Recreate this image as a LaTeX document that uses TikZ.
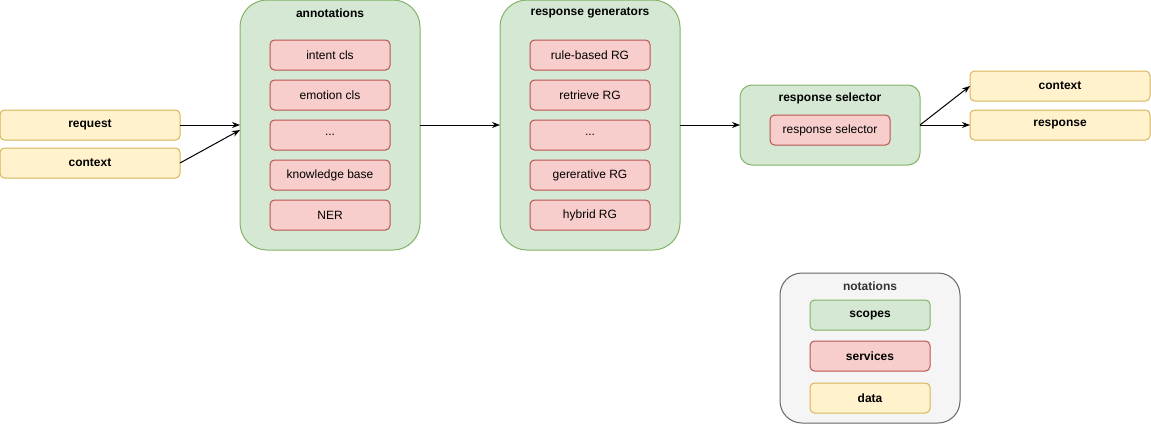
\documentclass[tikz,border=0pt]{standalone}
\usepackage{fontspec}
\setmainfont{Liberation Sans}
\usepackage{tikz}
\usetikzlibrary{arrows.meta,positioning}

\definecolor{scopefill}{HTML}{D5E8D4}
\definecolor{scopeline}{HTML}{82B366}
\definecolor{servfill}{HTML}{F8CECC}
\definecolor{servline}{HTML}{B85450}
\definecolor{datafill}{HTML}{FFF2CC}
\definecolor{dataline}{HTML}{D6B656}
\definecolor{notefill}{HTML}{F5F5F5}
\definecolor{noteline}{HTML}{666666}
\definecolor{notetext}{HTML}{333333}

\newcommand{\diafont}{\fontsize{12}{14}\selectfont}

\tikzset{
    scope/.style={draw=scopeline, fill=scopefill, line width=1pt, rounded corners=27pt, inner sep=0pt, outer sep=0pt},
    service/.style={draw=servline, fill=servfill, line width=1pt, rounded corners=4.5pt, minimum width=120pt, minimum height=30pt, inner sep=0pt, outer sep=0pt},
    data/.style={draw=dataline, fill=datafill, line width=1pt, rounded corners=4.5pt, minimum width=180pt, minimum height=30pt, inner sep=0pt, outer sep=0pt, font=\diafont\bfseries},
    title/.style={font=\diafont\bfseries, inner sep=0pt}
}

\begin{document}
\begin{tikzpicture}[x=1pt, y=-1pt, font=\diafont, node distance=10pt, >={Stealth[length=8pt,width=6pt]}]

    \useasboundingbox (0,0) rectangle (1151,424);

    % Input data
    \node[data] (request) at (90,125) {request};
    \node[data] (ctxIn) at (90,163) {context};

    % Annotations scope
    \node[scope, minimum width=180pt, minimum height=250pt] (annot) at (330,125) {};
    \node[title] (annotT) at (330,13) {annotations};
    \node[service] (intent) at (330,55) {intent cls};
    \node[service] (emotion) [below=of intent] {emotion cls};
    \node[service] (annotDots) [below=of emotion] {...};
    \node[service] (kb) [below=of annotDots] {knowledge base};
    \node[service] (ner) [below=of kb] {NER};

    % Response generators scope
    \node[scope, minimum width=180pt, minimum height=250pt] (gens) at (590,125) {};
    \node[title] (gensT) at (590,13) {response generators};
    \node[service] (ruleRG) at (590,55) {rule-based RG};
    \node[service] (retrRG) [below=of ruleRG] {retrieve RG};
    \node[service] (gensDots) [below=of retrRG] {...};
    \node[service] (genRG) [below=of gensDots] {gererative RG};
    \node[service] (hybRG) [below=of genRG] {hybrid RG};

    % Response selector scope
    \node[scope, rounded corners=12pt, minimum width=180pt, minimum height=80pt] (sel) at (830,125) {};
    \node[title] (selT) at (830,98) {response selector};
    \node[service] (selServ) at (830,130) {response selector};

    % Output data
    \node[data] (ctxOut) at (1060,86) {context};
    \node[data] (resp) at (1060,125) {response};

    % Notations
    \node[draw=noteline, fill=notefill, line width=1pt, rounded corners=22pt, minimum width=180pt, minimum height=150pt, outer sep=0pt] (notes) at (870,348) {};
    \node[title, text=notetext] (notesT) at (870,286) {notations};
    \node[service, draw=scopeline, fill=scopefill, font=\diafont\bfseries] (nScope) at (870,315) {scopes};
    \node[service, font=\diafont\bfseries] (nServ) at (870,356) {services};
    \node[service, draw=dataline, fill=datafill, font=\diafont\bfseries] (nData) at (870,398) {data};

    % Flow
    \path[->, line width=1pt]
        (request) edge (annot)
        (ctxIn.east) edge ([yshift=-5pt]annot.west)
        (annot) edge (gens)
        (gens) edge (sel)
        (sel.east) edge (ctxOut.west)
        (sel.east) edge (resp.west);

\end{tikzpicture}
\end{document}
